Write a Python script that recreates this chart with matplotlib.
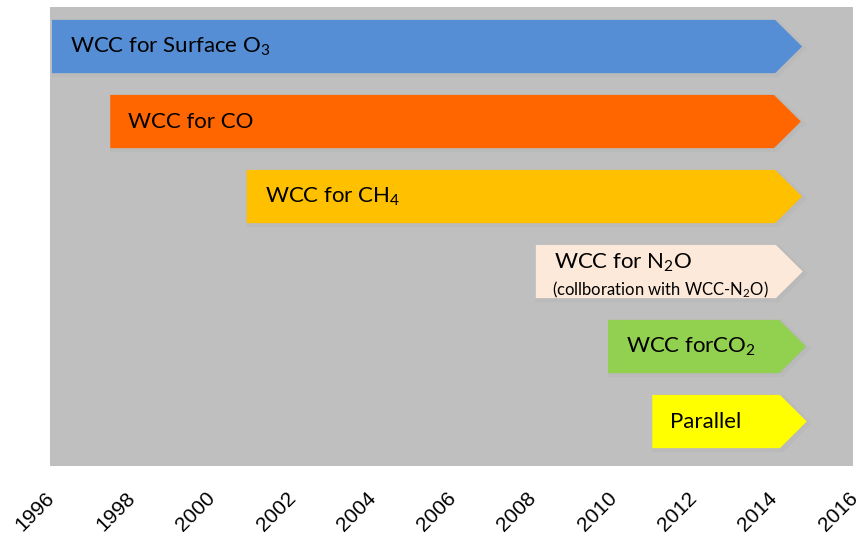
import matplotlib.pyplot as plt
import matplotlib.transforms as mtransforms
from matplotlib.patches import Polygon

plt.rcParams["mathtext.fontset"] = "custom"
plt.rcParams["mathtext.rm"] = "Lato"
plt.rcParams["mathtext.it"] = "Lato"

labels = [
    "WCC for Surface O$_3$",
    "WCC for CO",
    "WCC for CH$_4$",
    "WCC for N$_2$O",
    "WCC forCO$_2$",
    "Parallel",
]
notes = ["", "", "", "(collboration with WCC-N$_2$O)", "", ""]
start_year = [1996.05, 1997.5, 2000.9, 2008.1, 2009.9, 2011.0]
end_year = [2014.73, 2014.7, 2014.73, 2014.75, 2014.83, 2014.85]
colors = ["#558ED5", "#FF6600", "#FFC000", "#FDE9D9", "#92D050", "#FFFF00"]
year_ticks = list(range(1996, 2017, 2))

bar_h = 0.71
head = 0.67

fig = plt.figure(figsize=(8.56, 5.34), dpi=100)
ax = fig.add_axes([0.0584, 0.1273, 0.9381, 0.8596])
ax.set_facecolor("#BFBFBF")
ax.set_xlim(1996, 2016)
ax.set_ylim(5.593, -0.527)

for i, (lab, note, x0, x1, c) in enumerate(zip(labels, notes, start_year, end_year, colors)):
    top, bot = i - bar_h / 2, i + bar_h / 2
    pts = [(x0, top), (x1 - head, top), (x1, i), (x1 - head, bot), (x0, bot)]
    # soft halo behind each arrow
    ax.add_patch(Polygon([(x + 0.05, y + 0.025) for x, y in pts], closed=True,
                         facecolor="#B5B5B5", edgecolor="#BABABA", lw=3, zorder=1))
    ax.add_patch(Polygon(pts, closed=True, facecolor=c, edgecolor="none", zorder=2))
    tx = x0 + 0.45
    if note:
        ax.text(tx, i - 0.12, lab, fontsize=16, family="Lato",
                va="center", ha="left", zorder=3)
        ax.text(tx - 0.04, i + 0.24, note, fontsize=12, family="Lato",
                va="center", ha="left", zorder=3)
    else:
        ax.text(tx, i, lab, fontsize=16, family="Lato",
                va="center", ha="left", zorder=3)

ax.set_yticks([])
ax.set_xticks(year_ticks)
ax.set_xticklabels([str(y) for y in year_ticks], rotation=45, ha="right",
                   rotation_mode="anchor", fontsize=15, family="Liberation Sans")
ax.tick_params(axis="x", length=0, pad=16)
shift = mtransforms.ScaledTranslation(-5 / 100, 0, fig.dpi_scale_trans)
for t in ax.get_xticklabels():
    t.set_transform(t.get_transform() + shift)
for s in ax.spines.values():
    s.set_visible(False)

fig.savefig("out.png", dpi=100)
